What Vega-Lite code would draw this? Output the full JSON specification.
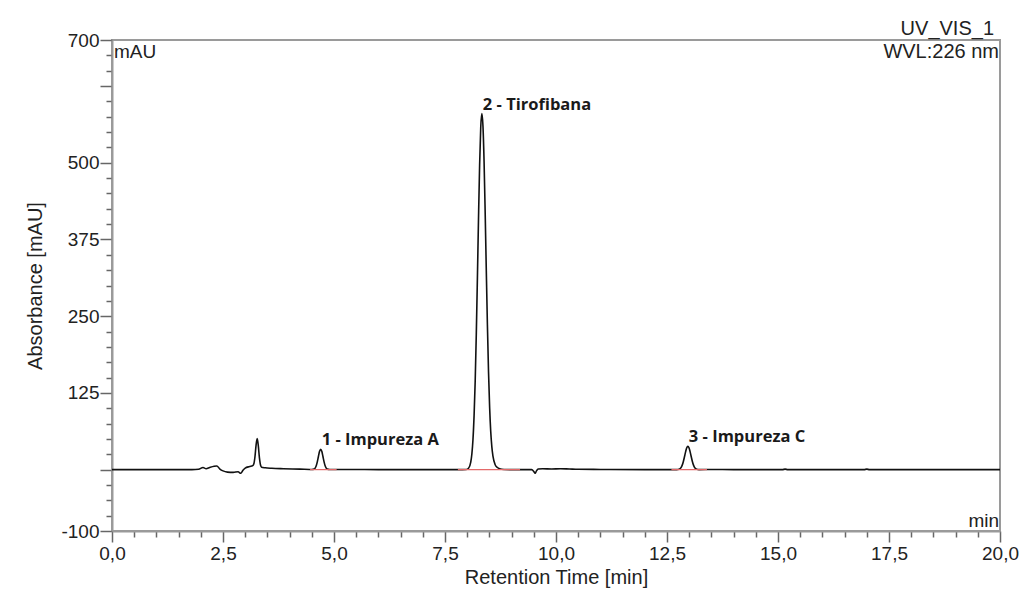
{
  "$schema": "https://vega.github.io/schema/vega-lite/v6.json",
  "width": 888,
  "height": 491,
  "autosize": {"type": "none"},
  "padding": {"left": 112, "top": 40, "right": 19, "bottom": 60},
  "background": "white",
  "config": {
    "view": {"stroke": "#9a9a9a", "strokeWidth": 2},
    "axis": {
      "labelFont": "Liberation Sans", "labelFontSize": 19, "labelColor": "#222",
      "titleFont": "Liberation Sans", "titleFontSize": 20, "titleFontWeight": "normal", "titleColor": "#222",
      "domainColor": "#9a9a9a", "domainWidth": 2, "tickColor": "#666", "tickWidth": 1.5, "grid": false, "labelOverlap": false
    }
  },
  "encoding": {
    "x": {
      "field": "t", "type": "quantitative",
      "scale": {"domain": [0, 20], "nice": false, "zero": false},
      "axis": {
        "title": "Retention Time [min]",
        "values": [0,0.5,1,1.5,2,2.5,3,3.5,4,4.5,5,5.5,6,6.5,7,7.5,8,8.5,9,9.5,10,10.5,11,11.5,12,12.5,13,13.5,14,14.5,15,15.5,16,16.5,17,17.5,18,18.5,19,19.5,20],
        "labelExpr": "datum.value % 2.5 === 0 ? replace(format(datum.value, '.1f'), '.', ',') : ''",
        "tickSize": {"condition": {"test": "datum.value % 2.5 === 0", "value": 11}, "value": 6},
        "labelFlush": false, "labelPadding": 2,
        "titleY": 46, "titleBaseline": "middle"
      }
    },
    "y": {
      "field": "a", "type": "quantitative",
      "scale": {"domain": [-100, 700], "nice": false, "zero": false},
      "axis": {
        "title": "Absorbance [mAU]",
        "values": [-100,-75,-50,-25,0,25,50,75,100,125,150,175,200,225,250,275,300,325,350,375,400,425,450,475,500,525,550,575,600,625,650,675,700],
        "labelExpr": "indexof([700,500,375,250,125,-100], datum.value) >= 0 ? '' + datum.value : ''",
        "tickSize": {"condition": {"test": "datum.value % 125 === 0 || datum.value === 700 || datum.value === -100", "value": 12}, "value": 6},
        "labelPadding": 1,
        "titleX": -77, "titleY": 245.5, "titleAngle": 270, "titleBaseline": "middle", "titleAlign": "center"
      }
    }
  },
  "layer": [
    {
      "data": {"values": [
        {"t":0,"a":0},{"t":1.0,"a":0},{"t":1.5,"a":0},{"t":1.8,"a":0},{"t":1.95,"a":0.5},{"t":2.05,"a":3.5},{"t":2.12,"a":1.5},{"t":2.2,"a":3.5},{"t":2.3,"a":5.5},{"t":2.36,"a":6},{"t":2.43,"a":1},{"t":2.5,"a":-2},{"t":2.6,"a":-4},{"t":2.73,"a":-4.5},{"t":2.84,"a":-3.5},{"t":2.9,"a":-6},{"t":2.95,"a":-1},{"t":3.0,"a":2.5},{"t":3.1,"a":5},{"t":3.17,"a":6.5},{"t":3.195,"a":9.5},{"t":3.22,"a":21},{"t":3.245,"a":40},{"t":3.27,"a":50.5},{"t":3.295,"a":39},{"t":3.32,"a":19.5},{"t":3.345,"a":7.5},{"t":3.37,"a":4},{"t":3.45,"a":3},{"t":3.6,"a":2.2},{"t":3.86,"a":1.5},{"t":4.23,"a":0.8},{"t":4.45,"a":0.3},
        {"t":4.5,"a":0.2},{"t":4.55,"a":0.8},{"t":4.575,"a":2.5},{"t":4.6,"a":6.3},{"t":4.625,"a":13},{"t":4.65,"a":21.8},{"t":4.675,"a":29.8},{"t":4.7,"a":33},{"t":4.725,"a":29.8},{"t":4.75,"a":21.8},{"t":4.775,"a":13},{"t":4.8,"a":6.3},{"t":4.825,"a":2.5},{"t":4.85,"a":0.8},{"t":4.9,"a":0.2},{"t":5.0,"a":0.3},{"t":5.5,"a":0.2},{"t":6.0,"a":0},{"t":7.0,"a":0},{"t":7.8,"a":0},
        {"t":7.98,"a":0.3},{"t":8.03,"a":2.2},{"t":8.08,"a":12.2},{"t":8.105,"a":25.5},{"t":8.13,"a":49},{"t":8.155,"a":88},{"t":8.18,"a":144},{"t":8.205,"a":221},{"t":8.23,"a":313},{"t":8.255,"a":410},{"t":8.28,"a":497},{"t":8.305,"a":558},{"t":8.33,"a":580},{"t":8.355,"a":560},{"t":8.38,"a":502},{"t":8.405,"a":418},{"t":8.43,"a":325},{"t":8.455,"a":236},{"t":8.48,"a":160},{"t":8.505,"a":102},{"t":8.53,"a":62},{"t":8.555,"a":37},{"t":8.58,"a":22},{"t":8.63,"a":8},{"t":8.68,"a":3.5},{"t":8.73,"a":1.5},{"t":8.83,"a":0.3},{"t":9.0,"a":0},
        {"t":9.45,"a":0},{"t":9.5,"a":-3},{"t":9.53,"a":-6},{"t":9.56,"a":-2},{"t":9.6,"a":1},{"t":9.7,"a":1.5},{"t":9.9,"a":1},{"t":10.1,"a":1.5},{"t":10.3,"a":1},{"t":10.5,"a":0.5},{"t":11.0,"a":0.3},{"t":12.0,"a":0},
        {"t":12.72,"a":0},{"t":12.77,"a":0.6},{"t":12.82,"a":3.8},{"t":12.845,"a":7.7},{"t":12.87,"a":13.7},{"t":12.895,"a":21.4},{"t":12.92,"a":29.4},{"t":12.945,"a":35.7},{"t":12.97,"a":38},{"t":12.995,"a":35.7},{"t":13.02,"a":29.4},{"t":13.045,"a":21.4},{"t":13.07,"a":13.7},{"t":13.095,"a":7.7},{"t":13.12,"a":3.8},{"t":13.17,"a":0.6},{"t":13.22,"a":0},{"t":13.5,"a":0.3},{"t":14.0,"a":0},
        {"t":15.1,"a":0},{"t":15.16,"a":0.8},{"t":15.22,"a":0},{"t":16.94,"a":0},{"t":17.0,"a":0.8},{"t":17.06,"a":0},{"t":20,"a":0}
      ]},
      "mark": {"type": "line", "color": "#111", "strokeWidth": 1.6, "interpolate": "monotone"}
    },
    {
      "data": {"values": [
        {"t": 4.46, "t2": 5.06, "a": 0},
        {"t": 7.79, "t2": 9.19, "a": 0},
        {"t": 12.6, "t2": 13.4, "a": 0}
      ]},
      "mark": {"type": "rule", "color": "#e46a6a", "strokeWidth": 1.2},
      "encoding": {"x2": {"field": "t2"}}
    },
    {
      "data": {"values": [
        {"t": 4.70, "a": 33, "label": "1 - Impureza A"},
        {"t": 8.33, "a": 580, "label": "2 - Tirofibana"},
        {"t": 12.97, "a": 38, "label": "3 - Impureza C"}
      ]},
      "mark": {"type": "text", "font": "Open Sans", "fontWeight": "bold", "fontSize": 16.5, "align": "left", "baseline": "alphabetic", "dx": 1, "dy": -4, "color": "#1a1a1a"},
      "encoding": {"text": {"field": "label"}}
    },
    {
      "data": {"values": [{"t": 0, "a": 700, "label": "mAU"}]},
      "mark": {"type": "text", "font": "Liberation Sans", "fontSize": 19, "align": "left", "baseline": "top", "dx": 2, "dy": 3, "color": "#222"},
      "encoding": {"text": {"field": "label"}}
    },
    {
      "data": {"values": [{"t": 20, "a": -100, "label": "min"}]},
      "mark": {"type": "text", "font": "Liberation Sans", "fontSize": 19, "align": "right", "baseline": "alphabetic", "dx": -1, "dy": -4, "color": "#222"},
      "encoding": {"text": {"field": "label"}}
    },
    {
      "data": {"values": [{"t": 20, "a": 700, "label": "UV_VIS_1"}]},
      "mark": {"type": "text", "font": "Liberation Sans", "fontSize": 20, "align": "right", "baseline": "alphabetic", "dx": -6, "dy": -5, "color": "#222"},
      "encoding": {"text": {"field": "label"}}
    },
    {
      "data": {"values": [{"t": 20, "a": 700, "label": "WVL:226 nm"}]},
      "mark": {"type": "text", "font": "Liberation Sans", "fontSize": 20, "align": "right", "baseline": "alphabetic", "dx": -1, "dy": 18, "color": "#222"},
      "encoding": {"text": {"field": "label"}}
    }
  ]
}
